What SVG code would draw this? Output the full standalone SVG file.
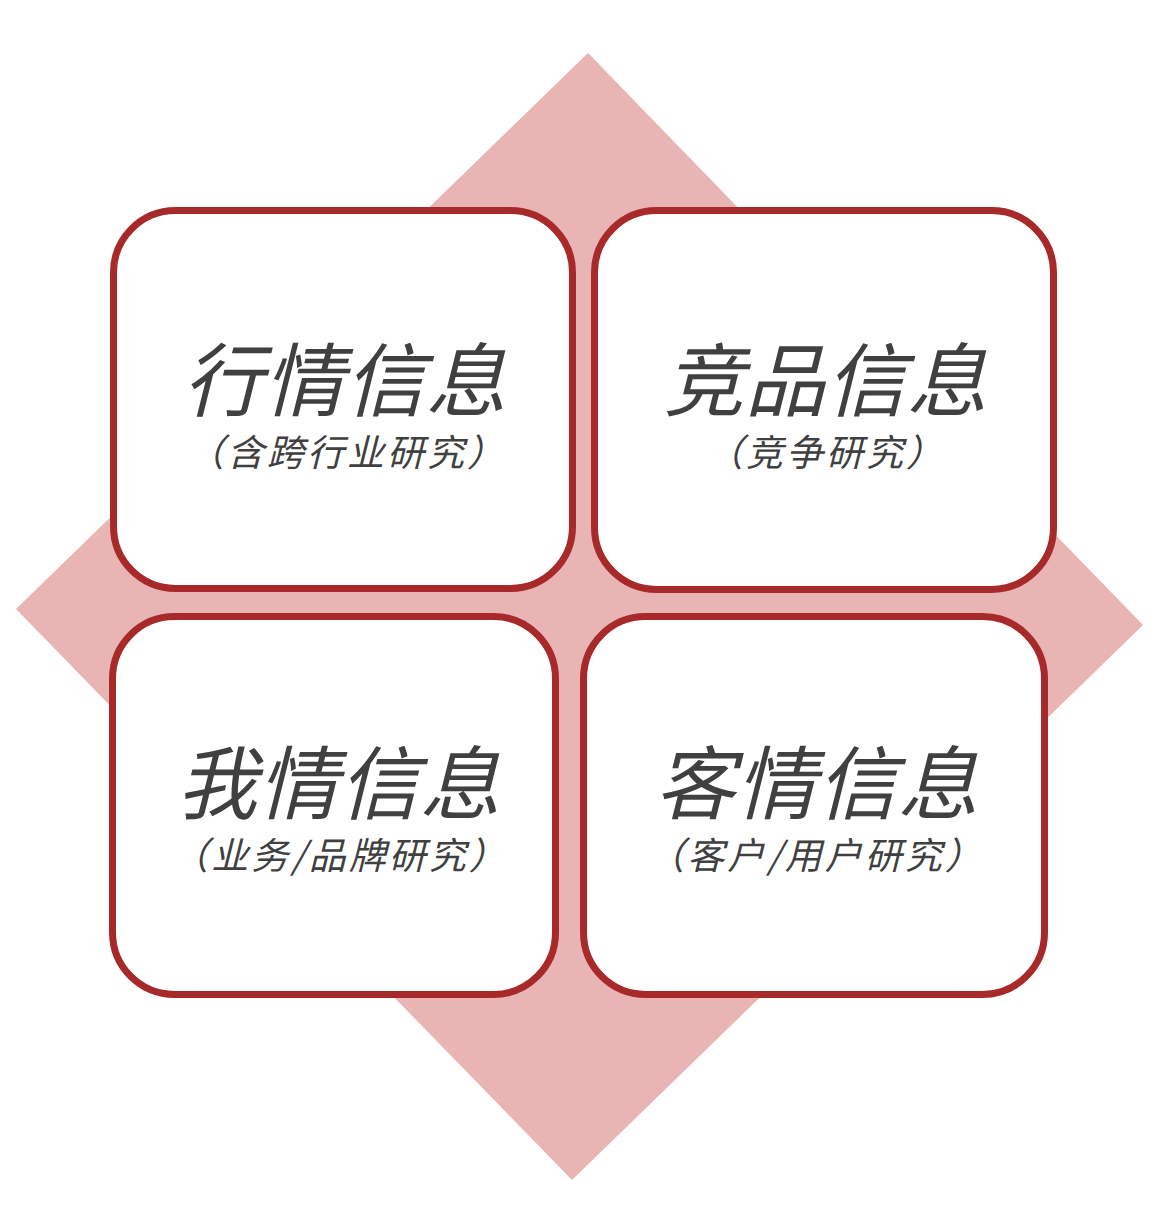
<svg xmlns="http://www.w3.org/2000/svg" width="1164" height="1218" viewBox="0 0 1164 1218">
<style>
.box{fill:#ffffff;stroke:#a7292a;stroke-width:7}
.t{font-family:"Noto Sans CJK SC","Noto Sans",sans-serif;font-style:italic;fill:#404040;text-anchor:middle}
.big{font-size:80px;letter-spacing:1px}
.small{font-size:37px;letter-spacing:3px}
</style>
<rect width="1164" height="1218" fill="#ffffff"/>
<polygon id="diamond" points="588,53 1143,625 572,1180 16,609" fill="#e8b4b4"/>
<g id="node-hangqing">
<rect class="box" x="113.5" y="210.5" width="459" height="378" rx="62"/>
<text class="t big" x="345" y="410">行情信息</text>
<text class="t small" x="347" y="466">（含跨行业研究）</text>
</g>
<g id="node-jingpin">
<rect class="box" x="594.5" y="210.5" width="459" height="379" rx="62"/>
<text class="t big" x="826" y="410">竞品信息</text>
<text class="t small" x="826" y="466">（竞争研究）</text>
</g>
<g id="node-woqing">
<rect class="box" x="112.5" y="616.5" width="443" height="378" rx="62"/>
<text class="t big" x="339" y="813">我情信息</text>
<text class="t small" x="340" y="869">（业务/品牌研究）</text>
</g>
<g id="node-keqing">
<rect class="box" x="583.5" y="616.5" width="461" height="378" rx="62"/>
<text class="t big" x="817" y="813">客情信息</text>
<text class="t small" x="816" y="869">（客户/用户研究）</text>
</g>
<g id="connectors"></g>
</svg>
